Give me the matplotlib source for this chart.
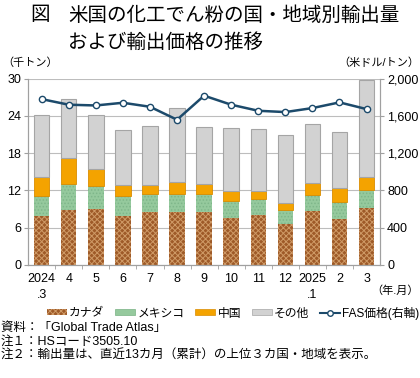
import numpy as np
from matplotlib import pyplot as plt

plt.rcParams['font.family'] = ['Liberation Sans', 'Noto Sans CJK JP']
plt.rcParams['hatch.linewidth'] = 0.7

months = ['2024\n.3', '4', '5', '6', '7', '8', '9', '10', '11', '12', '2025\n.1', '2', '3']
canada = [7.9, 8.8, 9.05, 7.9, 8.5, 8.55, 8.55, 7.5, 8.0, 6.65, 8.7, 7.35, 9.1]
mexico = [3.2, 4.3, 3.6, 3.2, 2.9, 2.9, 2.8, 2.8, 2.7, 2.15, 2.55, 2.75, 3.0]
china = [3.0, 4.1, 2.75, 1.7, 1.4, 1.85, 1.75, 1.55, 1.2, 1.1, 1.95, 2.3, 2.0]
other = [10.1, 9.5, 8.7, 8.9, 9.55, 11.9, 9.1, 10.15, 10.0, 11.1, 9.5, 9.0, 15.6]
fas_price = [1780, 1720, 1712, 1741, 1698, 1559, 1817, 1720, 1655, 1641, 1684, 1745, 1673]

fig = plt.figure(figsize=(4.2, 3.78), dpi=100)
ax = fig.add_axes([0.067, 0.299, 0.838, 0.493])

x = np.arange(len(months))
w = 0.57
c = np.array(canada)
m = np.array(mexico)
ch = np.array(china)
o = np.array(other)

# fill then hatch overlay so the pattern colour differs from the face
ax.bar(x, c, w, color='#9E5A28', edgecolor='none', zorder=2)
ax.bar(x, c, w, fill=False, hatch='xxxxxx', edgecolor='#CF9A66', linewidth=0, zorder=2)
ax.bar(x, m, w, bottom=c, color='#95C99D', edgecolor='none', zorder=2)
ax.bar(x, m, w, bottom=c, fill=False, hatch='.....', edgecolor='#7FB68A', linewidth=0, zorder=2)
ax.bar(x, ch, w, bottom=c + m, color='#F4A300', edgecolor='#D98C00', linewidth=0.6, zorder=2)
ax.bar(x, o, w, bottom=c + m + ch, color='#D2D2D2', edgecolor='#A5A5A5', linewidth=0.8, zorder=2)

ax.set_xlim(-0.5, len(months) - 0.5)
ax.set_ylim(0, 30)
ax.set_yticks(range(0, 31, 6))
ax.grid(axis='y', color='#BDBDBD', linewidth=0.8, zorder=0)
ax.set_xticks(x)
ax.set_xticklabels(months)
for lbl in ax.get_xticklabels():
    lbl.set_linespacing(1.45)
    lbl.set_verticalalignment('top')
ax.set_xticks(x[:-1] + 0.5, minor=True)
ax.tick_params(axis='x', which='major', length=0, pad=6, labelsize=9)
ax.tick_params(axis='x', which='minor', length=3, color='#A0A0A0')
ax.tick_params(axis='y', length=3, color='#A0A0A0', labelsize=9, pad=2)
ax.spines['top'].set_visible(False)
for s in ['left', 'right', 'bottom']:
    ax.spines[s].set_color('#A0A0A0')

ax2 = ax.twinx()
ax2.plot(x, fas_price, color='#1C4A6B', linewidth=1.8, marker='o', markersize=4.5,
         markerfacecolor='white', markeredgecolor='#1C4A6B', markeredgewidth=1.0, zorder=3)
ax2.set_ylim(0, 2000)
ax2.set_yticks(range(0, 2001, 400))
ax2.set_yticklabels(['{:,}'.format(v) for v in range(0, 2001, 400)])
ax2.tick_params(axis='y', length=3, color='#A0A0A0', labelsize=9, pad=2)
ax2.spines['top'].set_visible(False)
for s in ['left', 'right', 'bottom']:
    ax2.spines[s].set_color('#A0A0A0')

fig.text(0.072, 0.96, '図', fontsize=14, va='center', ha='left')
fig.text(0.162, 0.96, '米国の化工でん粉の国・地域別輸出量', fontsize=14, va='center', ha='left')
fig.text(0.162, 0.888, 'および輸出価格の推移', fontsize=14, va='center', ha='left')

fig.text(0.005, 0.833, '（千トン）', fontsize=8, va='center', ha='left')
fig.text(0.998, 0.833, '（米ドル/トン）', fontsize=8, va='center', ha='right')
fig.text(0.998, 0.232, '（年.月）', fontsize=8, va='center', ha='right')

handles = [
    plt.Rectangle((0, 0), 1, 1, facecolor='#9E5A28', edgecolor='#CF9A66', hatch='xxxxxx', linewidth=0),
    plt.Rectangle((0, 0), 1, 1, facecolor='#95C99D', edgecolor='#78B183', linewidth=0.5),
    plt.Rectangle((0, 0), 1, 1, facecolor='#F4A300', edgecolor='#D98C00', linewidth=0.5),
    plt.Rectangle((0, 0), 1, 1, facecolor='#D2D2D2', edgecolor='#A5A5A5', linewidth=0.5),
    plt.Line2D([], [], color='#1C4A6B', linewidth=1.5, marker='o', markersize=4,
               markerfacecolor='white', markeredgecolor='#1C4A6B'),
]
labels = ['カナダ', 'メキシコ', '中国', 'その他', 'FAS価格(右軸)']
fig.legend(handles, labels, loc='center', bbox_to_anchor=(0.555, 0.172), ncol=5, frameon=False,
           fontsize=8.5, handlelength=1.7, handleheight=0.45, handletextpad=0.2, columnspacing=0.9)

fig.text(0.002, 0.132, '資料：「Global Trade Atlas」', fontsize=9, va='center', ha='left')
fig.text(0.002, 0.095, '注１：HSコード3505.10', fontsize=9, va='center', ha='left')
fig.text(0.002, 0.059, '注２：輸出量は、直近13カ月（累計）の上位３カ国・地域を表示。', fontsize=9, va='center', ha='left')

fig.savefig('out.png', dpi=100)
